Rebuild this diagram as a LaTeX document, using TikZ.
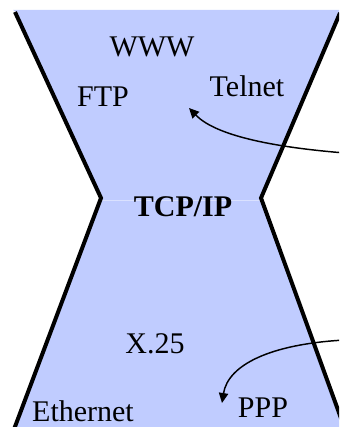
\documentclass[tikz,border=0pt]{standalone}
\usepackage{fontspec}
\setmainfont{Liberation Serif}
\usetikzlibrary{arrows.meta}
\definecolor{hourglass}{RGB}{192,204,255}
\definecolor{seam}{RGB}{218,225,255}
\tikzset{
  edge/.style={line width=3pt, line join=miter},
  label/.style={anchor=base, inner sep=0pt, font=\fontsize{22.5pt}{27pt}\selectfont},
  pointer/.style={line width=1.1pt, -{Triangle[length=7.5pt, width=7pt]}},
}
\begin{document}
\begin{tikzpicture}[x=0.75pt, y=-0.75pt]
  \useasboundingbox (0,0) rectangle (339,427);
  \begin{scope}
    \clip (0,0) rectangle (339,427);
    % hourglass body
    \fill[hourglass] (13,10) -- (339,10) -- (339,15) -- (261,198)
      -- (339,413) -- (339,430) -- (13,430) -- (101,198) -- (16,12) -- cycle;
    \draw[seam, line width=0.6pt] (101,200) -- (261,200);
    % outline of the waist
    \draw[edge] (15,12) -- (101,198) -- (13,432);
    \draw[edge] (340,13) -- (261,198) -- (346,432);
    % pointers coming in from the right
    \coordinate (srcA) at (345,153);
    \coordinate (tipA) at (189,108);
    \coordinate (srcB) at (345,340);
    \coordinate (tipB) at (222,403);
    \draw[pointer] (srcA) .. controls (270,147) and (215,135) .. (tipA);
    \draw[pointer] (srcB) .. controls (270,344) and (228,365) .. (tipB);
  \end{scope}
  % protocol names
  \node[label] (www) at (152,57) {WWW};
  \node[label] (ftp) at (103,107) {FTP};
  \node[label] (telnet) at (247,97) {Telnet};
  \node[label, font=\fontsize{22.5pt}{27pt}\selectfont\bfseries] (tcpip) at (183,217) {TCP/IP};
  \node[label] (x25) at (155,353) {X.25};
  \node[label] (ppp) at (263,417) {PPP};
  \node[label] (ethernet) at (83,421) {Ethernet};
\end{tikzpicture}
\end{document}
